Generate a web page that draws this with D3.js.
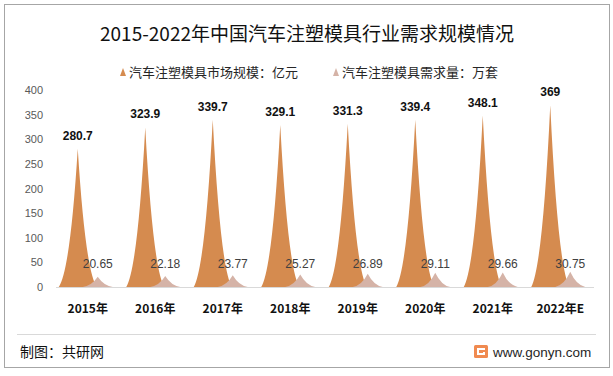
<!DOCTYPE html>
<html>
<head>
<meta charset="utf-8">
<script src="https://cdn.jsdelivr.net/npm/d3@7"></script>
<style>
  body { margin: 0; background: #fff; }
  svg text { font-family: "Noto Sans CJK SC", "Liberation Sans", sans-serif; }
</style>
</head>
<body>
<div class="PeakChart"></div>
<script>
const years = ["2015年", "2016年", "2017年", "2018年", "2019年", "2020年", "2021年", "2022年E"];
const marketSize = [280.7, 323.9, 339.7, 329.1, 331.3, 339.4, 348.1, 369];
const demand = [20.65, 22.18, 23.77, 25.27, 26.89, 29.11, 29.66, 30.75];
const yTicks = [0, 50, 100, 150, 200, 250, 300, 350, 400];
const seriesNames = ["汽车注塑模具市场规模：亿元", "汽车注塑模具需求量：万套"];
const seriesColors = ["#D58B4F", "#D5B3A7"];

const width = 613, height = 376;
const margin = { top: 90, right: 19, bottom: 89, left: 54 };

const svg = d3.select(".PeakChart").append("svg")
  .attr("width", width)
  .attr("height", height);

// outer frame
svg.append("rect")
  .attr("x", 4.5).attr("y", 4.5)
  .attr("width", 605).attr("height", 363)
  .attr("fill", "#fff")
  .attr("stroke", "#a6a6a6");

svg.append("text")
  .attr("x", 307).attr("y", 41)
  .attr("text-anchor", "middle")
  .style("font-size", "19px")
  .attr("fill", "#111")
  .text("2015-2022年中国汽车注塑模具行业需求规模情况");

const x = d3.scaleBand()
  .domain(years)
  .range([margin.left, width - margin.right]);

const y = d3.scaleLinear()
  .domain([0, 400])
  .range([287, 90]);

// y axis labels
const yAxis = svg.append("g")
  .attr("transform", `translate(${margin.left - 11},0)`)
  .call(d3.axisLeft(y).tickValues(yTicks).tickSize(0).tickPadding(0));
yAxis.select(".domain").remove();
yAxis.selectAll("text")
  .attr("fill", "#595959")
  .style("font-family", "'Liberation Sans', sans-serif")
  .style("font-size", "11px");

// peak path with concave sides
function peak(cx, hw, v) {
  const y0 = y(0), yt = y(v), h = y0 - yt;
  return `M${cx - hw},${y0}` +
    `Q${cx - hw * 0.4},${y0 - h * 0.12} ${cx},${yt}` +
    `Q${cx + hw * 0.4},${y0 - h * 0.12} ${cx + hw},${y0}Z`;
}

const center = d => x(d) + x.bandwidth() / 2;

svg.append("g").selectAll("path")
  .data(years)
  .join("path")
  .attr("d", (d, i) => peak(center(d) - 10, 19, marketSize[i]))
  .attr("fill", seriesColors[0]);

svg.append("g").selectAll("path")
  .data(years)
  .join("path")
  .attr("d", (d, i) => peak(center(d) + 10, 15, demand[i]))
  .attr("fill", seriesColors[1]);

// x axis line
svg.append("line")
  .attr("x1", margin.left + 2).attr("x2", width - margin.right)
  .attr("y1", y(0) + 0.5).attr("y2", y(0) + 0.5)
  .attr("stroke", "#d9d9d9");

// value labels
svg.append("g").selectAll("text")
  .data(years)
  .join("text")
  .attr("x", d => center(d) - 10)
  .attr("y", (d, i) => y(marketSize[i]) - 9)
  .attr("text-anchor", "middle")
  .style("font-family", "'Liberation Sans', sans-serif")
  .style("font-size", "12px")
  .style("font-weight", "bold")
  .attr("fill", "#111")
  .text((d, i) => marketSize[i]);

svg.append("g").selectAll("text")
  .data(years)
  .join("text")
  .attr("x", d => center(d) + 10)
  .attr("y", 268)
  .attr("text-anchor", "middle")
  .style("font-family", "'Liberation Sans', sans-serif")
  .style("font-size", "12px")
  .attr("fill", "#404040")
  .text((d, i) => demand[i]);

// category labels
svg.append("g").selectAll("text")
  .data(years)
  .join("text")
  .attr("x", d => center(d))
  .attr("y", 313)
  .attr("text-anchor", "middle")
  .style("font-size", "12px")
  .style("font-weight", "bold")
  .attr("fill", "#111")
  .text(d => d);

// legend
const legendX = [120, 333];
const legend = svg.append("g").selectAll("g")
  .data(seriesNames)
  .join("g")
  .attr("transform", (d, i) => `translate(${legendX[i]},72)`);
legend.append("path")
  .attr("d", "M0,4L3,-4L6,4Z")
  .attr("fill", (d, i) => seriesColors[i]);
legend.append("text")
  .attr("x", 9).attr("y", 5)
  .style("font-size", "13px")
  .attr("fill", "#262626")
  .text(d => d);

// footer
svg.append("line")
  .attr("x1", 17).attr("x2", 596)
  .attr("y1", 334.5).attr("y2", 334.5)
  .attr("stroke", "#d9d9d9");
svg.append("text")
  .attr("x", 20).attr("y", 357)
  .style("font-size", "14px")
  .attr("fill", "#111")
  .text("制图：共研网");

const logo = svg.append("g").attr("transform", "translate(474,345)");
logo.append("rect").attr("width", 14).attr("height", 13).attr("rx", 1.5).attr("fill", "#F08A50");
logo.append("path").attr("d", "M3,3H11V5H5V8H9V7H11V10H3Z").attr("fill", "#fff");
svg.append("text")
  .attr("x", 493).attr("y", 357)
  .style("font-family", "'Liberation Sans', sans-serif")
  .style("font-size", "13.5px")
  .attr("fill", "#262626")
  .text("www.gonyn.com");
</script>
</body>
</html>
